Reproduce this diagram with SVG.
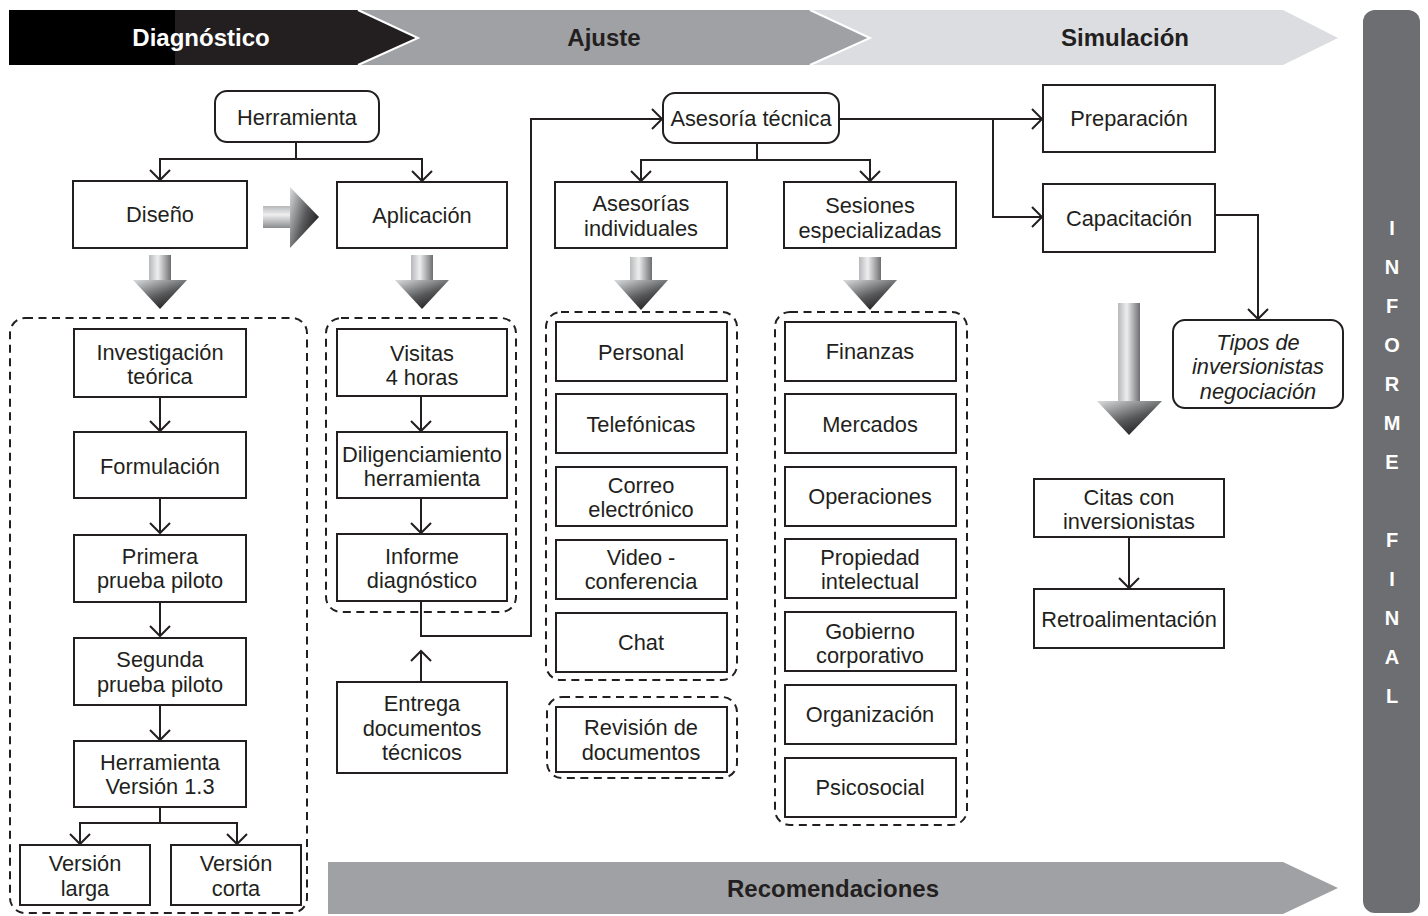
<svg xmlns="http://www.w3.org/2000/svg" width="1428" height="916" viewBox="0 0 1428 916">
  <style>
    .box { fill: #ffffff; stroke: #231f20; stroke-width: 2; }
    .grp { fill: none; stroke: #231f20; stroke-width: 2; stroke-dasharray: 8 5.5; }
    .t { font-family: "Liberation Sans", Arial, sans-serif; font-size: 21.8px; fill: #231f20; text-anchor: middle; }
    .ti { font-style: italic; }
    .band { font-family: "Liberation Sans", Arial, sans-serif; font-size: 24px; font-weight: bold; text-anchor: middle; }
    .vl { font-family: "Liberation Sans", Arial, sans-serif; font-size: 20px; font-weight: bold; fill: #ffffff; text-anchor: middle; }
    .ln { fill: none; stroke: #231f20; stroke-width: 2; }
    .arw { marker-end: url(#vhead); }
  </style>
  <defs>
    <marker id="vhead" viewBox="-12 -12 14 24" refX="0" refY="0" markerWidth="14" markerHeight="24" markerUnits="userSpaceOnUse" orient="auto">
      <path d="M-10,-10 L0,0 L-10,10" fill="none" stroke="#231f20" stroke-width="2"/>
    </marker>
    <!-- shading for the block arrows -->
    <linearGradient id="shaftV" x1="0" y1="0" x2="1" y2="0">
      <stop offset="0" stop-color="#b6b8ba"/>
      <stop offset="0.4" stop-color="#eeeeef"/>
      <stop offset="1" stop-color="#6d6e71"/>
    </linearGradient>
    <linearGradient id="headV" x1="0.1" y1="0" x2="0.75" y2="1">
      <stop offset="0" stop-color="#d1d3d4"/>
      <stop offset="0.55" stop-color="#58595b"/>
      <stop offset="1" stop-color="#1a1718"/>
    </linearGradient>
    <linearGradient id="shaftH" x1="0" y1="0" x2="0" y2="1">
      <stop offset="0" stop-color="#b6b8ba"/>
      <stop offset="0.4" stop-color="#eeeeef"/>
      <stop offset="1" stop-color="#8a8b8e"/>
    </linearGradient>
    <linearGradient id="headH" x1="0" y1="0.1" x2="1" y2="0.7">
      <stop offset="0" stop-color="#d1d3d4"/>
      <stop offset="0.55" stop-color="#58595b"/>
      <stop offset="1" stop-color="#1a1718"/>
    </linearGradient>
  </defs>

  <!-- phase bands -->
  <g id="phases">
    <polygon points="800,10 1283,10 1338,38 1283,65 800,65" fill="#dcdde0"/>
    <polygon points="350,10 810,10 870,38 810,65 350,65" fill="#a0a1a4"/>
    <polyline points="810,10 870,38 810,65" fill="none" stroke="#ffffff" stroke-width="2"/>
    <polygon points="9,10 358,10 418,38 358,65 9,65" fill="#231f20"/>
    <polyline points="358,10 418,38 358,65" fill="none" stroke="#ffffff" stroke-width="2"/>
    <rect x="9" y="10" width="166" height="55" fill="#000000"/>
    <text class="band" x="201" y="46" fill="#ffffff">Diagnóstico</text>
    <text class="band" x="604" y="46" fill="#231f20">Ajuste</text>
    <text class="band" x="1125" y="46" fill="#231f20">Simulación</text>
  </g>
  <g id="recomendaciones">
    <polygon points="328,862 1283,862 1338,888 1283,914 328,914" fill="#a0a1a4"/>
    <text class="band" x="833" y="897" fill="#231f20">Recomendaciones</text>
  </g>
  <g id="informe-final">
    <rect x="1363" y="10" width="57" height="903" rx="12" fill="#6d6e71"/>
    <text class="vl" x="1392" y="235">I</text>
    <text class="vl" x="1392" y="274">N</text>
    <text class="vl" x="1392" y="313">F</text>
    <text class="vl" x="1392" y="352">O</text>
    <text class="vl" x="1392" y="391">R</text>
    <text class="vl" x="1392" y="430">M</text>
    <text class="vl" x="1392" y="469">E</text>
    <text class="vl" x="1392" y="547">F</text>
    <text class="vl" x="1392" y="586">I</text>
    <text class="vl" x="1392" y="625">N</text>
    <text class="vl" x="1392" y="664">A</text>
    <text class="vl" x="1392" y="703">L</text>
  </g>

  <!-- dashed groupings -->
  <g id="groups">
    <rect class="grp" x="10" y="318" width="297" height="595" rx="15"/>
    <rect class="grp" x="326" y="318" width="190" height="294" rx="15"/>
    <rect class="grp" x="546" y="312" width="191" height="368" rx="15"/>
    <rect class="grp" x="547" y="697" width="190" height="81" rx="15"/>
    <rect class="grp" x="775" y="312" width="192" height="513" rx="15"/>
  </g>

  <!-- block arrows -->
  <g id="block-arrows">
    <rect x="149" y="255" width="22" height="26" fill="url(#shaftV)"/>
    <polygon points="133,280 187,280 160,309" fill="url(#headV)"/>
    <rect x="411" y="255" width="22" height="26" fill="url(#shaftV)"/>
    <polygon points="395,280 449,280 422,309" fill="url(#headV)"/>
    <rect x="630" y="257" width="22" height="24" fill="url(#shaftV)"/>
    <polygon points="614,280 668,280 641,310" fill="url(#headV)"/>
    <rect x="859" y="257" width="22" height="24" fill="url(#shaftV)"/>
    <polygon points="843,280 897,280 870,310" fill="url(#headV)"/>
    <rect x="263" y="206" width="28" height="22" fill="url(#shaftH)"/>
    <polygon points="290,187 290,248 319,217" fill="url(#headH)"/>
    <rect x="1118" y="303" width="22" height="99" fill="url(#shaftV)"/>
    <polygon points="1097,401 1162,401 1129,435" fill="url(#headV)"/>
  </g>

  <!-- connectors -->
  <g id="connectors">
    <path class="ln" d="M296,142 V159"/>
    <path class="ln arw" d="M296,159 H160 V180"/>
    <path class="ln arw" d="M296,159 H422 V181"/>
    <path class="ln arw" d="M160,397 V431"/>
    <path class="ln arw" d="M160,498 V533"/>
    <path class="ln arw" d="M160,602 V636"/>
    <path class="ln arw" d="M160,705 V740"/>
    <path class="ln" d="M160,807 V823"/>
    <path class="ln arw" d="M160,823 H80 V844"/>
    <path class="ln arw" d="M160,823 H237 V844"/>
    <path class="ln arw" d="M421,396 V431"/>
    <path class="ln arw" d="M421,498 V533"/>
    <path class="ln arw" d="M421,601 V636 H531 V119 H662"/>
    <path class="ln arw" d="M421,682 V651"/>
    <path class="ln" d="M757,143 V160"/>
    <path class="ln arw" d="M757,160 H641 V181"/>
    <path class="ln arw" d="M757,160 H870 V181"/>
    <path class="ln arw" d="M839,119 H1042"/>
    <path class="ln arw" d="M993,119 V217 H1042"/>
    <path class="ln arw" d="M1215,215 H1258 V319"/>
    <path class="ln arw" d="M1129,537 V588"/>
  </g>

  <!-- Diagnóstico column -->
  <g id="herramienta">
    <rect class="box" x="215" y="91" width="164" height="51" rx="12"/>
    <text class="t" x="297" y="125">Herramienta</text>
  </g>
  <g id="diseno">
    <rect class="box" x="73" y="181" width="174" height="67"/>
    <text class="t" x="160" y="222">Diseño</text>
  </g>
  <g id="aplicacion">
    <rect class="box" x="337" y="182" width="170" height="66"/>
    <text class="t" x="422" y="223">Aplicación</text>
  </g>
  <g id="investigacion">
    <rect class="box" x="74" y="329" width="172" height="68"/>
    <text class="t" x="160" y="360">Investigación</text>
    <text class="t" x="160" y="384">teórica</text>
  </g>
  <g id="formulacion">
    <rect class="box" x="74" y="432" width="172" height="66"/>
    <text class="t" x="160" y="474">Formulación</text>
  </g>
  <g id="primera-prueba">
    <rect class="box" x="74" y="535" width="172" height="67"/>
    <text class="t" x="160" y="564">Primera</text>
    <text class="t" x="160" y="588">prueba piloto</text>
  </g>
  <g id="segunda-prueba">
    <rect class="box" x="74" y="638" width="172" height="67"/>
    <text class="t" x="160" y="667">Segunda</text>
    <text class="t" x="160" y="692">prueba piloto</text>
  </g>
  <g id="herramienta-v13">
    <rect class="box" x="74" y="741" width="172" height="66"/>
    <text class="t" x="160" y="770">Herramienta</text>
    <text class="t" x="160" y="794">Versión 1.3</text>
  </g>
  <g id="version-larga">
    <rect class="box" x="20" y="845" width="130" height="60"/>
    <text class="t" x="85" y="871">Versión</text>
    <text class="t" x="85" y="896">larga</text>
  </g>
  <g id="version-corta">
    <rect class="box" x="171" y="845" width="130" height="60"/>
    <text class="t" x="236" y="871">Versión</text>
    <text class="t" x="236" y="896">corta</text>
  </g>

  <!-- Aplicación column -->
  <g id="visitas">
    <rect class="box" x="337" y="329" width="170" height="67"/>
    <text class="t" x="422" y="361">Visitas</text>
    <text class="t" x="422" y="385">4 horas</text>
  </g>
  <g id="diligenciamiento">
    <rect class="box" x="337" y="432" width="170" height="66"/>
    <text class="t" x="422" y="462">Diligenciamiento</text>
    <text class="t" x="422" y="486">herramienta</text>
  </g>
  <g id="informe-diagnostico">
    <rect class="box" x="337" y="534" width="170" height="67"/>
    <text class="t" x="422" y="564">Informe</text>
    <text class="t" x="422" y="588">diagnóstico</text>
  </g>
  <g id="entrega">
    <rect class="box" x="337" y="682" width="170" height="91"/>
    <text class="t" x="422" y="711">Entrega</text>
    <text class="t" x="422" y="736">documentos</text>
    <text class="t" x="422" y="760">técnicos</text>
  </g>

  <!-- Ajuste -->
  <g id="asesoria-tecnica">
    <rect class="box" x="663" y="93" width="176" height="50" rx="12"/>
    <text class="t" x="751" y="126">Asesoría técnica</text>
  </g>
  <g id="asesorias-individuales">
    <rect class="box" x="555" y="182" width="172" height="66"/>
    <text class="t" x="641" y="211">Asesorías</text>
    <text class="t" x="641" y="236">individuales</text>
  </g>
  <g id="sesiones-especializadas">
    <rect class="box" x="784" y="182" width="172" height="66"/>
    <text class="t" x="870" y="213">Sesiones</text>
    <text class="t" x="870" y="238">especializadas</text>
  </g>
  <g id="personal">
    <rect class="box" x="556" y="322" width="171" height="59"/>
    <text class="t" x="641" y="360">Personal</text>
  </g>
  <g id="telefonicas">
    <rect class="box" x="556" y="394" width="171" height="59"/>
    <text class="t" x="641" y="432">Telefónicas</text>
  </g>
  <g id="correo">
    <rect class="box" x="556" y="467" width="171" height="59"/>
    <text class="t" x="641" y="493">Correo</text>
    <text class="t" x="641" y="517">electrónico</text>
  </g>
  <g id="video">
    <rect class="box" x="556" y="540" width="171" height="59"/>
    <text class="t" x="641" y="565">Video -</text>
    <text class="t" x="641" y="589">conferencia</text>
  </g>
  <g id="chat">
    <rect class="box" x="556" y="613" width="171" height="59"/>
    <text class="t" x="641" y="650">Chat</text>
  </g>
  <g id="revision">
    <rect class="box" x="556" y="707" width="171" height="65"/>
    <text class="t" x="641" y="735">Revisión de</text>
    <text class="t" x="641" y="760">documentos</text>
  </g>
  <g id="finanzas">
    <rect class="box" x="785" y="322" width="171" height="59"/>
    <text class="t" x="870" y="359">Finanzas</text>
  </g>
  <g id="mercados">
    <rect class="box" x="785" y="394" width="171" height="59"/>
    <text class="t" x="870" y="432">Mercados</text>
  </g>
  <g id="operaciones">
    <rect class="box" x="785" y="467" width="171" height="59"/>
    <text class="t" x="870" y="504">Operaciones</text>
  </g>
  <g id="propiedad">
    <rect class="box" x="785" y="539" width="171" height="59"/>
    <text class="t" x="870" y="565">Propiedad</text>
    <text class="t" x="870" y="589">intelectual</text>
  </g>
  <g id="gobierno">
    <rect class="box" x="785" y="612" width="171" height="59"/>
    <text class="t" x="870" y="639">Gobierno</text>
    <text class="t" x="870" y="663">corporativo</text>
  </g>
  <g id="organizacion">
    <rect class="box" x="785" y="685" width="171" height="59"/>
    <text class="t" x="870" y="722">Organización</text>
  </g>
  <g id="psicosocial">
    <rect class="box" x="785" y="758" width="171" height="59"/>
    <text class="t" x="870" y="795">Psicosocial</text>
  </g>

  <!-- Simulación -->
  <g id="preparacion">
    <rect class="box" x="1043" y="85" width="172" height="67"/>
    <text class="t" x="1129" y="126">Preparación</text>
  </g>
  <g id="capacitacion">
    <rect class="box" x="1043" y="184" width="172" height="68"/>
    <text class="t" x="1129" y="226">Capacitación</text>
  </g>
  <g id="tipos">
    <rect class="box" x="1173" y="320" width="170" height="88" rx="12"/>
    <text class="t ti" x="1258" y="350">Tipos de</text>
    <text class="t ti" x="1258" y="374">inversionistas</text>
    <text class="t ti" x="1258" y="399">negociación</text>
  </g>
  <g id="citas">
    <rect class="box" x="1034" y="479" width="190" height="58"/>
    <text class="t" x="1129" y="505">Citas con</text>
    <text class="t" x="1129" y="529">inversionistas</text>
  </g>
  <g id="retroalimentacion">
    <rect class="box" x="1034" y="589" width="190" height="59"/>
    <text class="t" x="1129" y="627">Retroalimentación</text>
  </g>
</svg>
